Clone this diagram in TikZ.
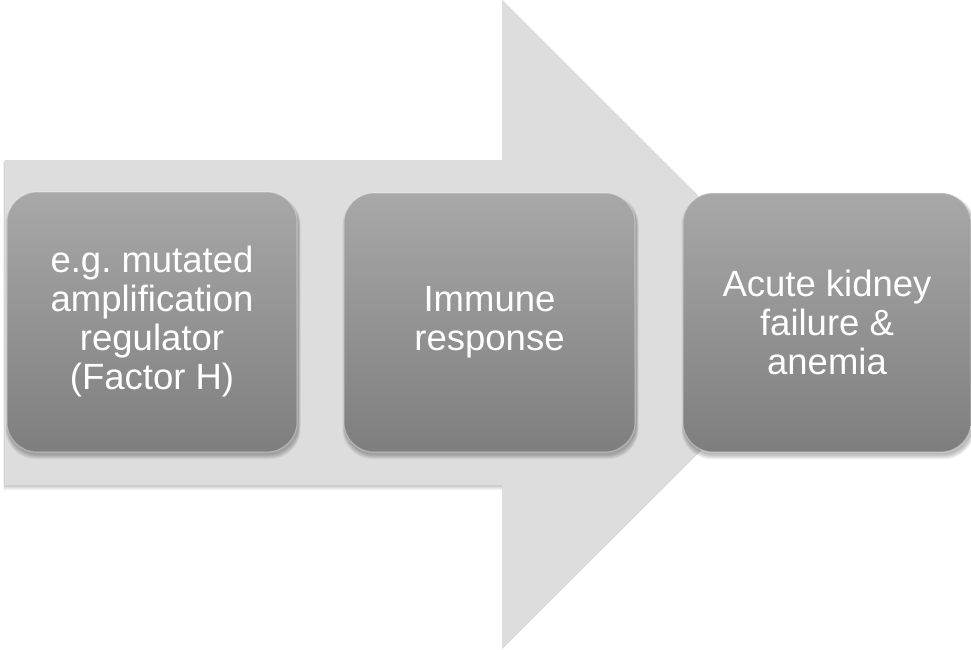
\documentclass[tikz,border=0pt]{standalone}
\usepackage{fontspec}
\setmainfont{Liberation Sans}
\frenchspacing
\definecolor{arrowgray}{RGB}{221,221,221}
\definecolor{boxtop}{RGB}{168,168,168}
\definecolor{boxbot}{RGB}{126,126,126}
\tikzset{
  stepbox/.style={rounded corners=30pt, top color=boxtop, bottom color=boxbot,
    draw=white, draw opacity=0.3, line width=1.2pt,
    text=white, align=center, font=\fontsize{36.5}{39}\selectfont, inner sep=0pt},
  boxshadow/.style={rounded corners=30pt, fill=black, opacity=0.06},
}
\begin{document}
\begin{tikzpicture}[x=1pt,y=-1pt]
\useasboundingbox (0,0) rectangle (971,649);
% arrow shadow
\foreach \d/\o in {4/0.05,2.5/0.07,1.2/0.09}{
  \fill[black, opacity=\o] (5-\d*0.5,160-\d*0.3+2) -- (502,160-\d*0.3+2) -- (502,0) -- (826+\d*0.5,324.5) -- (502,649) -- (502,485+\d+1) -- (5-\d*0.5,485+\d+1) -- cycle;
}
% arrow
\fill[arrowgray] (5,160) -- (502,160) -- (502,0) -- (826,324.5) -- (502,649) -- (502,485) -- (5,485) -- cycle;
% box shadows
\foreach \cx/\w in {152/290, 489.5/291, 827/288}{
  \foreach \d in {1,2,3,4,5}{
    \fill[boxshadow] (\cx-\w/2-\d*0.5+1,193-\d*0.3+3) rectangle (\cx+\w/2+\d*0.5+1,452+\d+2);
  }
}
% boxes
\node[stepbox, minimum width=290pt, minimum height=260pt] (b1) at (152,322)
  {e.g. mutated\\amplification\\regulator\\(Factor H)};
\node[stepbox, minimum width=291pt, minimum height=259pt] (b2) at (489.5,322.5)
  {Immune\\response};
\node[stepbox, minimum width=288pt, minimum height=259pt] (b3) at (827,322.5)
  {Acute kidney\\failure \&\\anemia};
\end{tikzpicture}
\end{document}
